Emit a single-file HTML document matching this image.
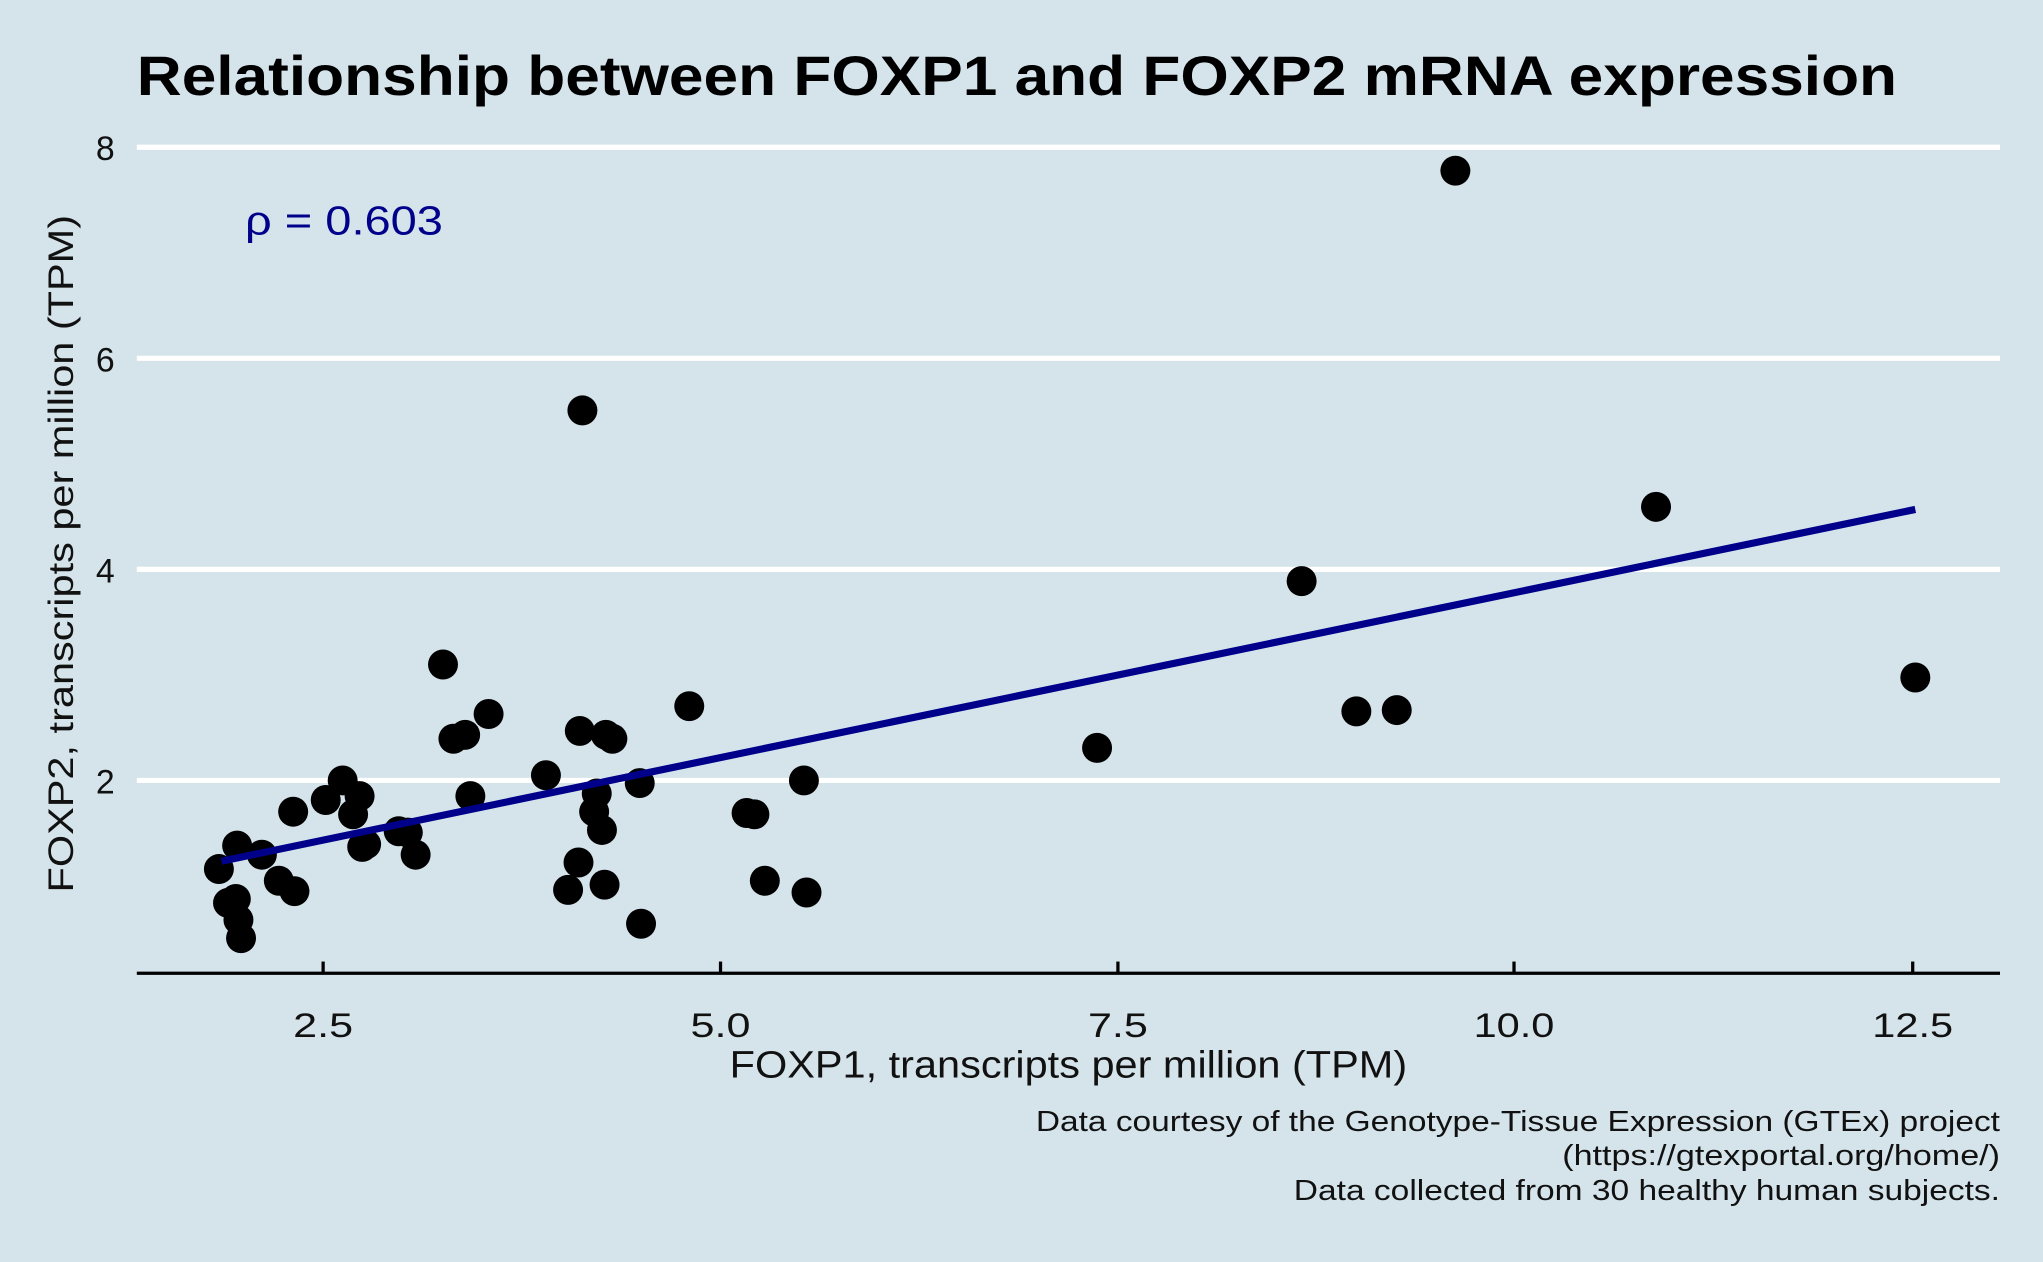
<!DOCTYPE html>
<html><head><meta charset="utf-8"><style>
html,body{margin:0;padding:0;background:#d5e4eb;}
svg{display:block;}
text{font-family:"Liberation Sans",sans-serif;}
</style></head><body>
<svg width="2043" height="1262" viewBox="0 0 1568 968.6" preserveAspectRatio="none" xmlns="http://www.w3.org/2000/svg">
<rect width="1568" height="969" fill="#d5e4eb"/>
<text x="105" y="73" font-size="43" font-weight="bold" fill="#000" textLength="1351" lengthAdjust="spacingAndGlyphs">Relationship between FOXP1 and FOXP2 mRNA expression</text>
<g stroke="#fff" stroke-width="4">
<line x1="105" y1="113" x2="1535" y2="113"/>
<line x1="105" y1="275" x2="1535" y2="275"/>
<line x1="105" y1="437" x2="1535" y2="437"/>
<line x1="105" y1="599" x2="1535" y2="599"/>
</g>
<g font-size="26" fill="#111" text-anchor="end">
<text x="88" y="123">8</text><text x="88" y="285">6</text><text x="88" y="447">4</text><text x="88" y="609">2</text>
</g>
<line x1="105" y1="747" x2="1535" y2="747" stroke="#000" stroke-width="2.5"/>
<g stroke="#000" stroke-width="2.5">
<line x1="248" y1="738" x2="248" y2="747"/><line x1="553" y1="738" x2="553" y2="747"/><line x1="858" y1="738" x2="858" y2="747"/><line x1="1162" y1="738" x2="1162" y2="747"/><line x1="1468" y1="738" x2="1468" y2="747"/>
</g>
<g font-size="26" fill="#111" text-anchor="middle">
<text x="248" y="796" textLength="46" lengthAdjust="spacingAndGlyphs">2.5</text><text x="553" y="796" textLength="46" lengthAdjust="spacingAndGlyphs">5.0</text><text x="858" y="796" textLength="46" lengthAdjust="spacingAndGlyphs">7.5</text><text x="1162" y="796" textLength="62" lengthAdjust="spacingAndGlyphs">10.0</text><text x="1468" y="796" textLength="62" lengthAdjust="spacingAndGlyphs">12.5</text>
</g>
<text x="560" y="827" font-size="29" fill="#111" textLength="520" lengthAdjust="spacingAndGlyphs">FOXP1, transcripts per million (TPM)</text>
<text transform="translate(56,425) rotate(-90)" font-size="27" text-anchor="middle" fill="#111" textLength="520" lengthAdjust="spacingAndGlyphs">FOXP2, transcripts per million (TPM)</text>
<text x="188" y="180" font-size="31" fill="#00008b" textLength="152" lengthAdjust="spacingAndGlyphs">ρ = 0.603</text>
<g font-size="22" fill="#111" text-anchor="end">
<text x="1535" y="868" textLength="740" lengthAdjust="spacingAndGlyphs">Data courtesy of the Genotype-Tissue Expression (GTEx) project</text>
<text x="1535" y="894" textLength="336" lengthAdjust="spacingAndGlyphs">(https://gtexportal.org/home/) </text>
<text x="1535" y="921" textLength="542" lengthAdjust="spacingAndGlyphs">Data collected from 30 healthy human subjects.</text>
</g>
<g fill="#000">
<circle cx="168" cy="667" r="11.5"/><circle cx="175" cy="693" r="11.5"/><circle cx="181" cy="690" r="11.5"/><circle cx="183" cy="706" r="11.5"/><circle cx="185" cy="720" r="11.5"/><circle cx="182" cy="649" r="11.5"/><circle cx="201" cy="656" r="11.5"/><circle cx="214" cy="676" r="11.5"/><circle cx="226" cy="684" r="11.5"/><circle cx="225" cy="623" r="11.5"/><circle cx="250" cy="614" r="11.5"/><circle cx="263" cy="599" r="11.5"/><circle cx="271" cy="625" r="11.5"/><circle cx="276" cy="611" r="11.5"/><circle cx="278" cy="650" r="11.5"/><circle cx="281" cy="648" r="11.5"/><circle cx="306" cy="638" r="11.5"/><circle cx="313" cy="639" r="11.5"/><circle cx="319" cy="656" r="11.5"/><circle cx="340" cy="510" r="11.5"/><circle cx="348" cy="567" r="11.5"/><circle cx="357" cy="564" r="11.5"/><circle cx="361" cy="611" r="11.5"/><circle cx="375" cy="548" r="11.5"/><circle cx="419" cy="595" r="11.5"/><circle cx="436" cy="683" r="11.5"/><circle cx="445" cy="561" r="11.5"/><circle cx="447" cy="315" r="11.5"/><circle cx="444" cy="662" r="11.5"/><circle cx="456" cy="623" r="11.5"/><circle cx="458" cy="609" r="11.5"/><circle cx="462" cy="637" r="11.5"/><circle cx="464" cy="679" r="11.5"/><circle cx="465" cy="564" r="11.5"/><circle cx="470" cy="567" r="11.5"/><circle cx="491" cy="601" r="11.5"/><circle cx="492" cy="709" r="11.5"/><circle cx="529" cy="542" r="11.5"/><circle cx="573" cy="624" r="11.5"/><circle cx="579" cy="625" r="11.5"/><circle cx="587" cy="676" r="11.5"/><circle cx="617" cy="599" r="11.5"/><circle cx="619" cy="685" r="11.5"/><circle cx="842" cy="574" r="11.5"/><circle cx="999" cy="446" r="11.5"/><circle cx="1041" cy="546" r="11.5"/><circle cx="1072" cy="545" r="11.5"/><circle cx="1117" cy="131" r="11.5"/><circle cx="1271" cy="389" r="11.5"/><circle cx="1470" cy="520" r="11.5"/>
</g>
<line x1="170" y1="661" x2="1470" y2="391" stroke="#00008b" stroke-width="5.5"/>
</svg>
</body></html>
